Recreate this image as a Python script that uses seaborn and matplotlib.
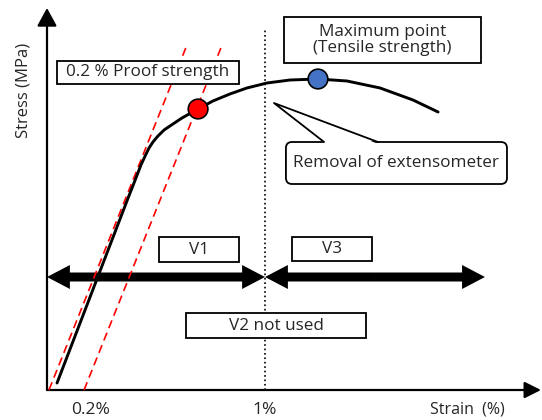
import numpy as np
import matplotlib
matplotlib.use("Agg")
import matplotlib.pyplot as plt
from matplotlib.patches import Rectangle, FancyBboxPatch, FancyArrow, FancyArrowPatch, Polygon
import seaborn as sns

# stress-strain curve (strain in %, stress in arbitrary MPa units)
strain = [0.046, 0.372, 0.408, 0.431, 0.450, 0.468, 0.486, 0.509, 0.537, 0.564,
          0.619, 0.693, 0.761, 0.839, 0.917, 1.009, 1.115, 1.243, 1.376, 1.528,
          1.679, 1.794]
stress = [7, 192, 212, 225, 234, 242, 248, 254, 260, 264,
          272, 281, 289, 296, 302, 307, 310, 311, 309, 302,
          290, 278]

# elastic line and 0.2 % offset line
elastic_x = [0.009, 0.642]
offset_x = [0.170, 0.803]
line_y = [0, 345]

# marked points: 0.2 % proof strength, tensile strength
point_x = [0.693, 1.243]
point_y = [281, 311]
point_names = ["proof", "tensile"]

tick_pos = [0.2, 1.0]
tick_labels = ["0.2%", "1%"]

sns.set_theme(style="white")
plt.rcParams['font.family'] = ['Open Sans', 'DejaVu Sans']

fig = plt.figure(figsize=(5.42, 4.2), dpi=100)
ax = fig.add_axes([0, 0, 1, 1])
ax.set_xlim(-47 / 218, 495 / 218)
ax.set_ylim(-30, 390)
ax.axis("off")

# axes with arrows
ax.add_patch(FancyArrowPatch((0, 0), (0, 382), arrowstyle='-|>,head_length=0.55,head_width=0.3',
                             mutation_scale=20, lw=1.6, color='black', shrinkA=0, shrinkB=0))
ax.add_patch(FancyArrowPatch((0, 0), (2.266, 0), arrowstyle='-|>,head_length=0.5,head_width=0.25',
                             mutation_scale=20, lw=1.6, color='black', shrinkA=0, shrinkB=0))

# 1 % dotted line
ax.vlines(1.0, 0, 362, colors='black', linestyles=':', lw=1.2)

# curves
sns.lineplot(x=elastic_x, y=line_y, color='red', lw=1.2, linestyle=(0, (5, 3)), ax=ax)
sns.lineplot(x=offset_x, y=line_y, color='red', lw=1.2, linestyle=(0, (5, 3)), ax=ax)
sns.lineplot(x=strain, y=stress, sort=False, color='black', lw=2.1, ax=ax)
sns.scatterplot(x=point_x, y=point_y, hue=point_names, palette=['#ff0000', '#4472c4'],
                s=200, edgecolor='black', linewidth=1.2, legend=False, zorder=5, ax=ax)

# V1 / V3 double arrows
for a, b in [(0.0, 1.0), (1.0, 2.009)]:
    mid = (a + b) / 2
    for end in (a, b):
        ax.add_patch(FancyArrow(mid, 113, end - mid, 0, width=9, head_width=24,
                                head_length=0.105, length_includes_head=True,
                                color='black', lw=0))

fs = 12.3

def box(x0, x1, y0, y1, text):
    ax.add_patch(Rectangle((x0, y0), x1 - x0, y1 - y0, facecolor='white',
                           edgecolor='black', lw=1.3, zorder=6))
    ax.text((x0 + x1) / 2, (y0 + y1) / 2, text, ha='center', va='center',
            fontsize=fs, zorder=7, linespacing=0.95)

box(0.046, 0.881, 306, 329, "0.2 % Proof strength")
box(1.087, 1.991, 327, 373, "Maximum point\n(Tensile strength)")
box(0.514, 0.881, 128, 153, "V1")
box(1.124, 1.491, 129, 153, "V3")
box(0.638, 1.463, 52, 77, "V2 not used")

# callout
ax.add_patch(FancyBboxPatch((1.096, 206), 1.014, 42, boxstyle="round,pad=0,rounding_size=0.028",
                            mutation_aspect=218, facecolor='white', edgecolor='black', lw=1.3, zorder=6))
tip = (1.041, 287)
f1 = (1.271, 248)
f2 = (1.518, 248)
ax.add_patch(Polygon([tip, (f1[0] + 0.004, 246.5), (f2[0] - 0.004, 246.5)], closed=True,
                     facecolor='white', edgecolor='none', zorder=7))
ax.plot([f1[0], tip[0], f2[0]], [f1[1], tip[1], f2[1]], color='black', lw=1.3, zorder=7)
ax.text(1.603, 227, "Removal of extensometer", ha='center', va='center', fontsize=fs, zorder=8)

# labels
for p, lab in zip(tick_pos, tick_labels):
    ax.text(p, -20, lab, ha='center', va='center', fontsize=12.5)
ax.text(1.927, -20, "Strain  (%)", ha='center', va='center', fontsize=11.5)
ax.text(-0.108, 300, "Stress (MPa)", ha='center', va='center', rotation=90, fontsize=12)

fig.savefig("out.png", dpi=100)
